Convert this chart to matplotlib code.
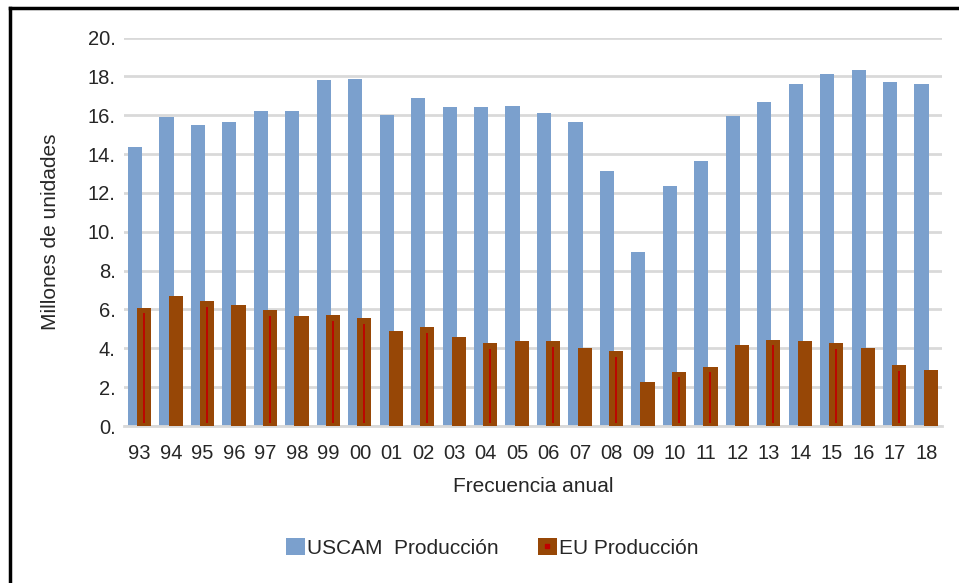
import numpy as np
from matplotlib import pyplot as plt
from matplotlib.lines import Line2D
from matplotlib.patches import Patch
from matplotlib.legend_handler import HandlerTuple
from matplotlib.ticker import FuncFormatter

years = ['93', '94', '95', '96', '97', '98', '99', '00', '01', '02', '03', '04', '05',
         '06', '07', '08', '09', '10', '11', '12', '13', '14', '15', '16', '17', '18']
uscam = [14.37, 15.9, 15.5, 15.63, 16.24, 16.24, 17.82, 17.87, 16.01, 16.89, 16.43, 16.43, 16.49,
         16.1, 15.63, 13.11, 8.97, 12.34, 13.62, 15.94, 16.69, 17.61, 18.14, 18.33, 17.7, 17.61]
eu = [6.1, 6.7, 6.44, 6.25, 5.98, 5.64, 5.7, 5.57, 4.91, 5.1, 4.59, 4.26, 4.38,
      4.38, 3.99, 3.87, 2.27, 2.8, 3.06, 4.19, 4.45, 4.38, 4.26, 3.99, 3.13, 2.87]
# thin red streak visible inside some of the brown bars
streak = [1, 0, 1, 0, 1, 0, 1, 1, 0, 1, 0, 1, 0,
          1, 0, 1, 0, 1, 1, 0, 1, 0, 1, 0, 1, 0]

blue = '#7BA0CD'
brown = '#974706'
red = '#C00000'
txt = '#262626'

plt.rcParams['font.family'] = ['Liberation Sans', 'DejaVu Sans']

fig = plt.figure(figsize=(9.59, 5.83), dpi=100)
ax = fig.add_axes([124/959, 1-426/583, 818/959, 388.5/583])

x = np.arange(len(years))
eu_arr = np.array(eu)
ax.bar(x - 0.15, uscam, width=0.45, color=blue, zorder=2)
ax.bar(x + 0.14, eu, width=0.45, color=brown, zorder=3)
sx = x[np.array(streak) == 1] + 0.14
ax.vlines(sx, 0.15, eu_arr[np.array(streak) == 1] - 0.3, color=red, lw=1.3, zorder=4)

ax.set_xlim(-0.5, len(years) - 0.5)
ax.set_ylim(0, 20)
ax.set_yticks(np.arange(0, 21, 2))
ax.yaxis.set_major_formatter(FuncFormatter(lambda v, p: f'{v:.0f}.'))
ax.set_xticks(x)
ax.set_xticklabels(years)
ax.tick_params(axis='both', length=0, labelsize=14.5, labelcolor=txt)
ax.tick_params(axis='x', pad=13)
ax.tick_params(axis='y', pad=6)
ax.grid(axis='y', color='#D9D9D9', lw=2, zorder=0)
ax.set_axisbelow(True)
for s in ['top', 'right', 'left']:
    ax.spines[s].set_visible(False)
ax.spines['bottom'].set_color('#D9D9D9')
ax.spines['bottom'].set_linewidth(2)

ax.set_ylabel('Millones de unidades', fontsize=15, color=txt)
ax.yaxis.set_label_coords(-0.078, 0.5)
ax.set_xlabel('Frecuencia anual', fontsize=15, color=txt)
ax.xaxis.set_label_coords(0.5, -0.132)

h1 = Patch(facecolor=blue)
h2 = (Patch(facecolor=brown), Line2D([], [], marker='s', color=red, ms=3, lw=0))
fig.legend([h1, h2], ['USCAM  Producción', 'EU Producción'],
           handler_map={tuple: HandlerTuple(ndivide=1, pad=0)},
           loc='center', bbox_to_anchor=(0.513, 0.06), ncol=2, frameon=False,
           fontsize=15, handlelength=0.9, handleheight=0.9, handletextpad=0.1,
           columnspacing=1.9, labelcolor=txt)

# frame lines on the top and left edge of the picture
fig.add_artist(Line2D([10/959, 1], [1-8/583, 1-8/583], color='black', lw=2.5))
fig.add_artist(Line2D([10/959, 10/959], [0, 1-8/583], color='black', lw=2.5))

plt.savefig('out.png', dpi=100)
